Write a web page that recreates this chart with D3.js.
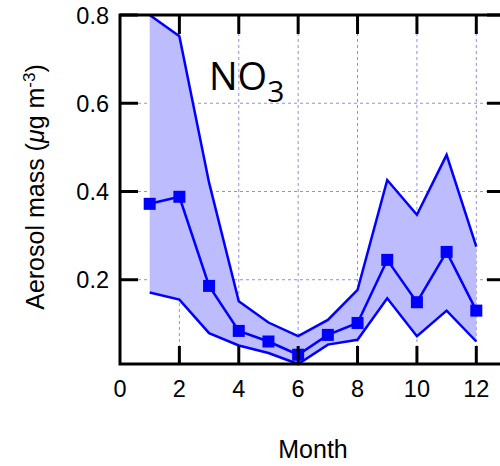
<!DOCTYPE html>
<html><head><meta charset="utf-8">
<script src="https://cdn.jsdelivr.net/npm/d3@7/dist/d3.min.js"></script>
<style>body{margin:0;background:#fff}svg{display:block}</style>
</head><body>
<svg id="c" width="500" height="466"></svg>
<script>
const months = [1,2,3,4,5,6,7,8,9,10,11,12];
const meanVals = [0.372,0.388,0.186,0.084,0.060,0.030,0.075,0.102,0.245,0.149,0.263,0.130];
const upperVals = [0.800,0.752,0.420,0.151,0.103,0.072,0.109,0.177,0.426,0.347,0.483,0.275];
const lowerVals = [0.171,0.155,0.079,0.051,0.034,0.009,0.053,0.064,0.158,0.072,0.130,0.060];
const xTicks = [0,2,4,6,8,10,12];
const yTicks = [0.2,0.4,0.6,0.8];

const svg = d3.select("#c");
const m = {l:120, t:15, r:506, b:364};
const x = d3.scaleLinear().domain([0,13]).range([m.l, m.r]);
const y = d3.scaleLinear().domain([0.009,0.8]).range([m.b, m.t]);
const font = "'Liberation Sans', Arial, sans-serif";
const blue = "#0000ff";

// grid
const g = svg.append("g");
g.selectAll(".gx").data(xTicks.filter(d=>d>0)).enter().append("line")
  .attr("x1",d=>x(d)).attr("x2",d=>x(d)).attr("y1",m.t).attr("y2",m.b)
  .attr("stroke","#8c8cff").attr("stroke-width",1).attr("stroke-dasharray","3,3");
g.selectAll(".gy").data(yTicks.filter(d=>d<0.8)).enter().append("line")
  .attr("x1",m.l).attr("x2",m.r).attr("y1",d=>y(d)).attr("y2",d=>y(d))
  .attr("stroke","#8c8cff").attr("stroke-width",1).attr("stroke-dasharray","3,3");

// band
const data = months.map((mo,i)=>({mo, mean:meanVals[i], up:upperVals[i], lo:lowerVals[i]}));
svg.append("path").datum(data)
  .attr("d", d3.area().x(d=>x(d.mo)).y0(d=>y(d.lo)).y1(d=>y(d.up)))
  .attr("fill","#bcbcff").attr("stroke","none");

const line = key => d3.line().x(d=>x(d.mo)).y(d=>y(d[key]));
["up","lo","mean"].forEach(k=>{
  svg.append("path").datum(data).attr("d", line(k))
    .attr("fill","none").attr("stroke",blue).attr("stroke-width",2.5).attr("stroke-linejoin","miter");
});
svg.selectAll(".sq").data(data).enter().append("rect")
  .attr("x",d=>x(d.mo)-6).attr("y",d=>y(d.mean)-6).attr("width",12).attr("height",12)
  .attr("fill",blue);

// axes
const ax = svg.append("g").attr("stroke","#000").attr("stroke-width",3);
ax.append("rect").attr("x",m.l).attr("y",m.t).attr("width",m.r-m.l).attr("height",m.b-m.t)
  .attr("fill","none").attr("stroke","#000").attr("stroke-width",3);
xTicks.filter(d=>d>0).forEach(d=>{
  ax.append("line").attr("x1",x(d)).attr("x2",x(d)).attr("y1",m.b).attr("y2",m.b-18);
  ax.append("line").attr("x1",x(d)).attr("x2",x(d)).attr("y1",m.t).attr("y2",m.t+19);
});
yTicks.forEach(d=>{
  ax.append("line").attr("x1",m.l).attr("x2",m.l+18).attr("y1",y(d)).attr("y2",y(d));
  ax.append("line").attr("x1",m.r).attr("x2",m.r-19).attr("y1",y(d)).attr("y2",y(d));
});

// tick labels
svg.selectAll(".xl").data(xTicks).enter().append("text")
  .attr("x",d=>x(d)).attr("y",397).attr("text-anchor","middle")
  .attr("font-family",font).attr("font-size",23.5).text(d=>d);
svg.selectAll(".yl").data(yTicks).enter().append("text")
  .attr("x",109).attr("y",d=>y(d)+8.5).attr("text-anchor","end")
  .attr("font-family",font).attr("font-size",23.5).text(d=>d.toFixed(1));

// axis titles
svg.append("text").attr("x",313).attr("y",458).attr("text-anchor","middle")
  .attr("font-family",font).attr("font-size",25).text("Month");
const yt = svg.append("text").attr("transform","translate(44,187) rotate(-90)")
  .attr("text-anchor","middle").attr("font-family",font).attr("font-size",25);
yt.append("tspan").text("Aerosol mass (");
yt.append("tspan").attr("font-style","italic").text("\u03bc");
yt.append("tspan").text("g m");
yt.append("tspan").attr("dy",-9).attr("font-size",17).text("-3");
yt.append("tspan").attr("dy",9).text(")");

// species label
const t = svg.append("text").attr("x",209).attr("y",90)
  .attr("font-family","'Open Sans', 'Noto Sans', sans-serif").attr("font-size",38);
t.append("tspan").text("NO");
t.append("tspan").attr("dy",12).attr("font-size",30).text("3");
</script>
</body></html>
